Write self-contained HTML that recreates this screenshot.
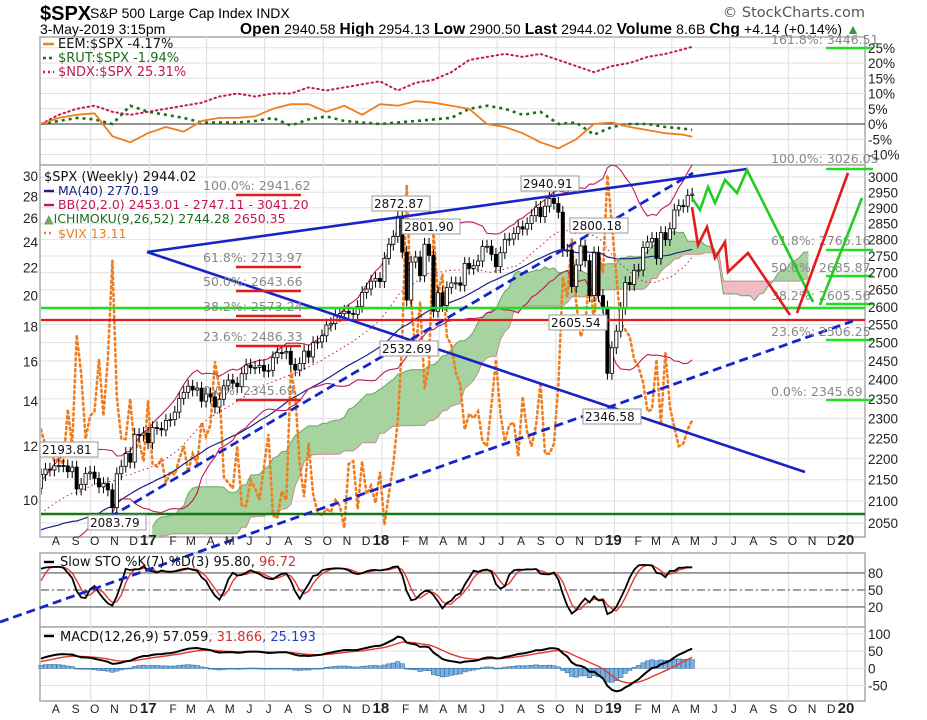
<!DOCTYPE html>
<html><head><meta charset="utf-8"><style>
html,body{margin:0;padding:0;background:#fff;}
svg{display:block;font-family:"Liberation Sans",sans-serif;}
.dv{font-family:"DejaVu Sans","Liberation Sans",sans-serif;}
</style></head><body>
<svg id="chart" width="927" height="720" viewBox="0 0 927 720" xmlns="http://www.w3.org/2000/svg">
<rect width="927" height="720" fill="#fff"/>
<g>
<text x="40" y="20" font-size="20" font-weight="bold">$SPX</text>
<text x="90" y="18" font-size="14">S&amp;P 500 Large Cap Index  INDX</text>
<text x="40" y="34" font-size="14">3-May-2019 3:15pm</text>
<text x="240" y="34" font-size="14" textLength="620"><tspan font-weight="bold" font-size="15.5">Open</tspan> 2940.58 <tspan font-weight="bold" font-size="15.5">High</tspan> 2954.13 <tspan font-weight="bold" font-size="15.5">Low</tspan> 2900.50 <tspan font-weight="bold" font-size="15.5">Last</tspan> 2944.02 <tspan font-weight="bold" font-size="15.5">Volume</tspan> 8.6B <tspan font-weight="bold" font-size="15.5">Chg</tspan> +4.14 (+0.14%) <tspan fill="#393">▲</tspan></text>
<text x="865" y="17" font-size="14.5" text-anchor="end" fill="#555" class="dv">© StockCharts.com</text>
</g>
<g id="panes"></g>
<g id="grid"></g>
<g id="content"></g>
<g id="annot"></g>
<g id="labels"></g>
</svg>
<script>
// ---- DATA ----
const priorCloses = [2126,2079,2104,2078,2092,1971,1989,1921,1961,1958,1932,1951,2014,2033,2075,2079,2099,2023,2089,2090,2092,2012,2005,2061,2044,1922,1880,1907,1940,1880,1865,1918,1948,1999,2022,2050,2035,2073,2048,2081,2092,2065,2057,2047,2052,2099,2099,2096,2071,2037,2103,2130];
const spxCloses = [2162,2175,2173,2183,2184,2183,2169,2180,2128,2139,2165,2168,2153,2133,2141,2126,2085,2164,2182,2213,2192,2260,2258,2263,2239,
2277,2275,2271,2295,2297,2316,2351,2367,2383,2373,2378,2344,2363,2355,2329,2349,2384,2399,2391,2382,2416,2439,2432,2433,2438,2423,2425,2459,2473,2472,2476,2441,2426,2443,2477,2461,2500,2502,2519,2549,2553,2575,2581,2588,2582,2579,2602,2642,2652,2675,2683,2674,
2743,2786,2810,2873,2762,2620,2732,2747,2691,2786,2752,2588,2641,2604,2656,2670,2670,2663,2728,2713,2721,2735,2779,2780,2755,2718,2760,2801,2802,2819,2840,2833,2850,2875,2902,2872,2905,2930,2914,2886,2767,2768,2659,2723,2781,2736,2633,2760,2633,2600,2417,2486,
2532,2596,2671,2665,2707,2708,2776,2793,2804,2743,2822,2800,2834,2893,2907,2905,2940,2944];
const vixValues = [12.7,12.0,11.9,11.4,11.5,11.3,13.6,12.0,17.5,15.4,12.3,13.3,13.5,16.1,13.3,16.2,22.5,14.2,12.3,12.3,14.1,11.8,12.2,11.4,14.0,
11.3,11.2,11.5,10.6,11.0,10.9,11.5,12.0,11.0,11.7,11.3,13.0,12.4,12.9,16.0,14.6,10.8,10.6,10.4,12.0,9.8,9.8,10.7,10.4,10.0,11.2,12.5,9.5,9.4,10.3,10.0,15.5,14.3,11.3,10.1,12.1,10.2,9.6,9.5,9.7,9.6,10.0,9.8,9.1,11.3,11.4,9.7,11.4,10.2,10.5,9.9,11.0,
9.2,10.2,11.3,13.1,17.3,29.1,19.5,16.5,19.6,14.6,15.8,24.9,20.0,21.5,17.4,16.9,15.4,14.8,12.7,13.4,13.2,13.5,12.2,12.0,13.8,16.1,13.4,12.2,12.9,13.0,11.6,14.2,12.6,12.0,12.9,14.9,11.7,11.7,12.1,14.8,21.3,19.9,24.2,19.5,17.4,18.1,21.5,18.1,23.2,21.6,30.1,25.4,
21.4,18.2,17.8,17.4,16.1,15.7,14.9,13.5,13.6,16.1,12.9,16.5,13.7,12.8,12.0,12.1,12.7,13.1];
const ratioWeeks = [0,4,8,12,16,20,24,28,32,36,40,44,48,52,56,60,64,68,72,76,80,84,88,92,96,100,104,108,112,116,120,124,128,132,136,140,144,146];
const eemPct = [0,2,3,3.5,-4,-6,-3,-1,-2.5,1,2,2,2.5,5,6.5,6.5,4,6,3,6.5,6,7.5,7,6,5,0,-1,-3,-6,-8,-5,0,0.5,-1,-2,-3,-3.5,-4.17];
const rutPct = [0,1,2,1.5,0,6,4,3,2,0.5,0.5,0.5,1,2,-0.5,1.5,2.5,1,0.5,0,0.5,1,1.5,2,5,6,5,3,4,0,0.5,-3.5,-1,0,0,-1,-1.5,-1.94];
const ndxPct = [0,3,5,6,4,3,4,5,6,7,9,10,9,10,10,12,11,12,13,14,11,13.5,14.5,17,21,22,23,22,23,21,19,17,19,20,22,23,24.5,25.31];
const priceTicks = [3000,2950,2900,2850,2800,2750,2700,2650,2600,2550,2500,2450,2400,2350,2300,2250,2200,2150,2100,2050];
const vixTicks = [30,28,26,24,22,20,18,16,14,12,10];
const pctTicks = [25,20,15,10,5,0,-5,-10];
const monthLabels = ['A','S','O','N','D','17','F','M','A','M','J','J','A','S','O','N','D','18','F','M','A','M','J','J','A','S','O','N','D','19','F','M','A','M','J','J','A','S','O','N','D','20'];

// ---- SCALES ----
const NS='http://www.w3.org/2000/svg';
const X0=41, XR=865, WPX=4.46;
const xW = w => X0 + w*WPX;
const yP = p => 177 + (Math.log(3000)-Math.log(p))*908.6;
const yV = v => 176 + (Math.log(30)-Math.log(v))*294.9;
const yPct = p => 124 - p*3.05;
const yS = v => 618.3 - v*0.567;
const yM = v => 668.3 - v*0.343;
function mk(tag, attrs, parent){const e=document.createElementNS(NS,tag);for(const k in attrs)e.setAttribute(k,attrs[k]);parent.appendChild(e);return e;}
const G=id=>document.getElementById(id);
const panes=G('panes'), grid=G('grid'), content=G('content'), annot=G('annot'), labels=G('labels');
const pl = pts => pts.map(p=>p[0].toFixed(1)+','+p[1].toFixed(1)).join(' ');

const paneDefs=[['ratio-pane',37,165],['price-pane',165,537],['sto-pane',553,627],['macd-pane',627,701]];
paneDefs.forEach(d=>{
  const r=mk('rect',{x:X0-1,y:d[1],width:XR-X0+1,height:d[2]-d[1],fill:'#fff',stroke:'#aaa','stroke-width':1.5},panes);
  
  
});
const defs=mk('defs',{},G('chart'));
const cp=mk('clipPath',{id:'mainclip'},defs); mk('rect',{x:X0,y:165,width:XR-X0,height:372},cp);
const cpt=mk('clipPath',{id:'topclip'},defs); mk('rect',{x:X0,y:37,width:XR-X0,height:128},cpt);

const start=new Date(2016,6,15);
const monthX=[];
for(let i=0;i<monthLabels.length;i++){const d=new Date(2016,7+i,1);monthX.push(xW((d-start)/86400000/7));}
monthX.forEach((x,i)=>{
  if(i%3===2){['37,165','165,537','553,627','627,701'].forEach(s=>{const [a,b]=s.split(',');
    const l=mk('line',{x1:x,x2:x,y1:a,y2:b,stroke:'#ddd'},grid);
    
    });}
  [545,713].forEach(yy=>{
    const isY=/\d/.test(monthLabels[i]);
    const t=mk('text',{x:x+(isY?-1:4),y:yy,'font-size':isY?15:12,'font-weight':isY?'bold':'normal','text-anchor':'middle',fill:'#222'},labels);
    t.textContent=monthLabels[i];
    
    
  });
});
priceTicks.forEach(p=>{
  const l=mk('line',{x1:X0,x2:XR,y1:yP(p),y2:yP(p),stroke:'#e2e2e2'},grid);
  
  
  const t=mk('text',{x:868,y:yP(p)+5,'font-size':13.5,fill:'#222'},labels); t.textContent=p;
  
  
});
vixTicks.forEach(v=>{
  const t=mk('text',{x:38,y:yV(v)+5,'font-size':13.5,'text-anchor':'end',fill:'#222'},labels); t.textContent=v;
  
  
});
pctTicks.forEach(p=>{
  const l=mk('line',{x1:X0,x2:XR,y1:yPct(p),y2:yPct(p),stroke:p===0?'#555':'#e2e2e2','stroke-width':p===0?1.3:1},grid);
  
  
  const t=mk('text',{x:868,y:yPct(p)+5,'font-size':13.5,fill:'#222'},labels); t.textContent=p+'%';
  
  
});
[[80,'#777',''],[50,'#777','8,3,2,3'],[20,'#777','']].forEach(d=>{
  const l=mk('line',{x1:X0,x2:XR,y1:yS(d[0]),y2:yS(d[0]),stroke:d[1],'stroke-width':1.4,'stroke-dasharray':d[2]},grid);
  
  
  const t=mk('text',{x:868,y:yS(d[0])+5,'font-size':13.5,fill:'#222'},labels); t.textContent=d[0];
  
  
});
[100,50,0,-50].forEach(v=>{
  const l=mk('line',{x1:X0,x2:XR,y1:yM(v),y2:yM(v),stroke:'#e2e2e2'},grid);
  
  
  const t=mk('text',{x:868,y:yM(v)+5,'font-size':13.5,fill:'#222'},labels); t.textContent=v;
  
  
});

// ---- derived series ----
const all=priorCloses.concat(spxCloses); const OFF=priorCloses.length;
const N=spxCloses.length;
const opens=all.map((c,i)=>i?all[i-1]:c);
const highs=all.map((c,i)=>Math.max(c,opens[i])*1.007);
const lows=all.map((c,i)=>Math.min(c,opens[i])*0.993);
const sma=(arr,i,n)=>{let s=0,k=0;for(let j=Math.max(0,i-n+1);j<=i;j++){s+=arr[j];k++;}return s/k;};
const hh=(i,n)=>Math.max(...highs.slice(Math.max(0,i-n+1),i+1));
const ll=(i,n)=>Math.min(...lows.slice(Math.max(0,i-n+1),i+1));

const mainG=mk('g',{'clip-path':'url(#mainclip)'},content);



const cloudA=[],cloudB=[];
for(let i=51;i<all.length;i++){
  const ten=(hh(i,9)+ll(i,9))/2, kij=(hh(i,26)+ll(i,26))/2, sb=(hh(i,52)+ll(i,52))/2;
  cloudA.push([i-OFF+26,(ten+kij)/2]); cloudB.push([i-OFF+26,sb]);
}
for(let k=0;k<cloudA.length-1;k++){
  const a0=cloudA[k],a1=cloudA[k+1],b0=cloudB[k],b1=cloudB[k+1];
  const up=(a0[1]+a1[1])>=(b0[1]+b1[1]);
  const q=mk('polygon',{points:pl([[xW(a0[0]),yP(a0[1])],[xW(a1[0]),yP(a1[1])],[xW(b1[0]),yP(b1[1])],[xW(b0[0]),yP(b0[1])]]),fill:up?'#a6d3a0':'#eebcc4',stroke:up?'#a6d3a0':'#eebcc4','stroke-width':0.6},mainG);
  
  
}
const la=mk('polyline',{points:pl(cloudA.map(p=>[xW(p[0]),yP(p[1])])),fill:'none',stroke:'#6aa864','stroke-width':1},mainG);


const lb=mk('polyline',{points:pl(cloudB.map(p=>[xW(p[0]),yP(p[1])])),fill:'none',stroke:'#c88c90','stroke-width':1},mainG);



const vixLine=mk('polyline',{points:pl(vixValues.map((v,w)=>[xW(w),yV(v)])),fill:'none',stroke:'#f07d1e','stroke-width':2.6,'stroke-dasharray':'2,3.5','stroke-linecap':'round'},mainG);



const ma=[],bbU=[],bbL=[],bbM=[];
for(let w=0;w<N;w++){const i=w+OFF;const m=sma(all,i,40);ma.push([xW(w),yP(m)]);
  const m20=sma(all,i,20);let v=0;for(let j=i-19;j<=i;j++)v+=(all[j]-m20)**2;const sd=Math.sqrt(v/20);
  bbU.push([xW(w),yP(m20+2*sd)]);bbL.push([xW(w),yP(m20-2*sd)]);bbM.push([xW(w),yP(m20)]);}
const maL=mk('polyline',{points:pl(ma),fill:'none',stroke:'#1a237e','stroke-width':1.2},mainG);


const bu=mk('polyline',{points:pl(bbU),fill:'none',stroke:'#c2185b','stroke-width':1.1},mainG);


const bl=mk('polyline',{points:pl(bbL),fill:'none',stroke:'#c2185b','stroke-width':1.1},mainG);


const bm=mk('polyline',{points:pl(bbM),fill:'none',stroke:'#c2185b','stroke-width':1,'stroke-dasharray':'1.5,3'},mainG);



for(let w=0;w<N;w++){const i=w+OFF;const x=xW(w);const o=opens[i],c=all[i];
  const wk=mk('line',{x1:x,x2:x,y1:yP(highs[i]),y2:yP(lows[i]),stroke:'#000','stroke-width':1},mainG);
  
  
  const top=yP(Math.max(o,c)),bot=yP(Math.min(o,c));
  const b=mk('rect',{x:x-1.6,y:top,width:3.2,height:Math.max(1,bot-top),fill:c>=o?'#fff':'#000',stroke:'#000','stroke-width':0.8},mainG);
  
  
}

const topG=mk('g',{'clip-path':'url(#topclip)'},content);


const ndxL=mk('polyline',{points:pl(ratioWeeks.map((w,k)=>[xW(w),yPct(ndxPct[k])])),fill:'none',stroke:'#c2185b','stroke-width':2,'stroke-dasharray':'1.5,3.5','stroke-linecap':'round'},topG);


const rutL=mk('polyline',{points:pl(ratioWeeks.map((w,k)=>[xW(w),yPct(rutPct[k])])),fill:'none',stroke:'#1b6e1b','stroke-width':2.6,'stroke-dasharray':'3,4'},topG);


const eemL=mk('polyline',{points:pl(ratioWeeks.map((w,k)=>[xW(w),yPct(eemPct[k])])),fill:'none',stroke:'#f07d1e','stroke-width':1.8},topG);



const fastK=[];for(let i=0;i<all.length;i++){const H=hh(i,7),L=ll(i,7);fastK.push((all[i]-L)/(H-L)*100);}
const slowK=fastK.map((_,i)=>sma(fastK,i,3));const slowD=slowK.map((_,i)=>sma(slowK,i,3));
const stoD=mk('polyline',{points:pl(spxCloses.map((_,w)=>[xW(w),yS(slowD[w+OFF])])),fill:'none',stroke:'#e53935','stroke-width':1.4},content);


const stoK=mk('polyline',{points:pl(spxCloses.map((_,w)=>[xW(w),yS(slowK[w+OFF])])),fill:'none',stroke:'#000','stroke-width':1.8},content);



const ema=(arr,n)=>{const k=2/(n+1);const o=[arr[0]];for(let i=1;i<arr.length;i++)o.push(arr[i]*k+o[i-1]*(1-k));return o;};
const e12=ema(all,12),e26=ema(all,26);const macd=all.map((_,i)=>e12[i]-e26[i]);const sig=ema(macd,9);
for(let w=0;w<N;w++){const i=w+OFF;const h=macd[i]-sig[i];const y0=yM(0),y1=yM(h);
  const r=mk('rect',{x:xW(w)-2.2,y:Math.min(y0,y1),width:4.4,height:Math.max(0.8,Math.abs(y1-y0)),fill:'#7fb0de',stroke:'#2f6ea6','stroke-width':0.6},content);
  
  }
const sgL=mk('polyline',{points:pl(spxCloses.map((_,w)=>[xW(w),yM(sig[w+OFF])])),fill:'none',stroke:'#e53935','stroke-width':1.4},content);


const mL=mk('polyline',{points:pl(spxCloses.map((_,w)=>[xW(w),yM(macd[w+OFF])])),fill:'none',stroke:'#000','stroke-width':2},content);


</script>
<script>
(function(){
const NS='http://www.w3.org/2000/svg';const annot=document.getElementById('annot');
function L(x1,y1,x2,y2,col,w,dash,name){const e=document.createElementNS(NS,'line');
  e.setAttribute('x1',x1);e.setAttribute('y1',y1);e.setAttribute('x2',x2);e.setAttribute('y2',y2);
  e.setAttribute('stroke',col);e.setAttribute('stroke-width',w);if(dash)e.setAttribute('stroke-dasharray',dash);
  annot.appendChild(e);}
function P(pts,col,name){const e=document.createElementNS(NS,'polyline');e.setAttribute('points',pts);e.setAttribute('fill','none');
  e.setAttribute('stroke',col);e.setAttribute('stroke-width',2.6);annot.appendChild(e);
  }
function T(x,y,parts,size,name,box){
  if(box){const r=document.createElementNS(NS,'rect');r.setAttribute('x',x-2);r.setAttribute('y',y-12);r.setAttribute('width',box);r.setAttribute('height',15);
    r.setAttribute('fill','#fff');r.setAttribute('stroke','#999');annot.appendChild(r);
    }
  const t=document.createElementNS(NS,'text');t.setAttribute('x',x);t.setAttribute('y',y);t.setAttribute('font-size',size);
  t.setAttribute('class','dv');
  parts.forEach(p=>{const s=document.createElementNS(NS,'tspan');s.setAttribute('fill',p[1]);s.textContent=p[0];t.appendChild(s);});
  annot.appendChild(t);
  }
L(41,308,865,308,'#22dd22',2.5,'','support-line-green');
L(41,320,865,320,'#e21b1b',2.2,'','resistance-line-red');
L(41,514,865,514,'#137a13',2.6,'','long-support-line');
L(147,252,747,169,'#1424c8',2.6,'','upper-trendline');
L(147,252,805,472,'#1424c8',2.6,'','lower-trendline');
L(110,517,693,173,'#1424c8',2.8,'9,5','dashed-trendline-upper');
L(0,622,853,321,'#1424c8',2.8,'9,5','dashed-trendline-lower');
[[195,'100.0%: 2941.62'],[267,'61.8%: 2713.97'],[291,'50.0%: 2643.66'],[316,'38.2%: 2573.24'],[346,'23.6%: 2486.33'],[400,'0.0%: 2345.69']].forEach(f=>{
  L(236,f[0],301,f[0],'#e21b1b',2.4,'','fib-level-left');T(203,f[0]-5,[[f[1],'#888']],12.5,'fib-label-left');});
[[48,'161.8%: 3446.51',44],[169,'100.0%: 3026.05',163],[250,'61.8%: 2766.16',245],[276,'50.0%: 2685.87',272],[304,'38.2%: 2605.56',300],[340,'23.6%: 2506.25',336],[400,'0.0%: 2345.69',396]].forEach(f=>{
  L(826,f[0],873,f[0],'#22dd22',2.4,'','fib-level-right');T(771,f[2],[[f[1],'#888']],12.5,'fib-label-right');});
P('692,198 700,210 708,187 715,203 725,180 737,193 747,170 813,302','#22cc22','bullish-projection');
P('820,305 862,198','#22cc22','bullish-projection-rebound');
P('692,207 698,245 707,227 715,258 725,242 728,272 748,253 790,315','#e21b1b','bearish-projection');
P('797,313 848,173','#e21b1b','bearish-projection-rebound');
[[42,454,'2193.81'],[90,527,'2083.79'],[374,208,'2872.87'],[404,231,'2801.90'],[382,353,'2532.69'],[523,188,'2940.91'],[572,230,'2800.18'],[551,327,'2605.54'],[585,421,'2346.58']].forEach(a=>T(a[0],a[1],[[a[2],'#111']],12,'price-annotation',58));
const lg=[[43,48,'#f07d1e','EEM:$SPX -4.17%','','#111'],[43,62,'#1b6e1b','$RUT:$SPX -1.94%','3,3','#1b6e1b'],[43,76,'#c2185b','$NDX:$SPX 25.31%','2,3','#c2185b']];
lg.forEach(l=>{L(l[0],l[1]-4,l[0]+11,l[1]-4,l[2],2.5,l[4],'legend-marker');T(l[0]+15,l[1],[[l[3],l[5]]],13,'legend-entry');});
T(44,181,[['$SPX (Weekly) 2944.02','#111']],13,'legend-spx');
L(44,191,54,191,'#1a237e',2.4,'','legend-marker');T(58,195,[['MA(40) 2770.19','#1a237e']],12.5,'legend-ma40');
L(44,205,54,205,'#c2185b',2.4,'','legend-marker');T(58,209,[['BB(20,2.0) 2453.01 - 2747.11 - 3041.20','#c2185b']],12.5,'legend-bollinger');
T(44,223,[['▲','#6aa864'],['ICHIMOKU(9,26,52) 2744.28 ','#1b6e1b'],['2650.35','#c2185b']],12.5,'legend-ichimoku');
L(44,233,54,233,'#f07d1e',2.4,'2,3','legend-marker');T(58,238,[['$VIX 13.11','#f07d1e']],12.5,'legend-vix');
L(44,562,54,562,'#000',2.4,'','legend-marker');T(60,566,[['Slow STO %K(7) %D(3) 95.80, ','#111'],['96.72','#d32f2f']],13,'legend-sto');
L(44,636,54,636,'#000',2.4,'','legend-marker');T(60,641,[['MACD(12,26,9) 57.059','#111'],[', 31.866','#d32f2f'],[', 25.193','#1e40c8']],13,'legend-macd');
})();
</script>
</body></html>
